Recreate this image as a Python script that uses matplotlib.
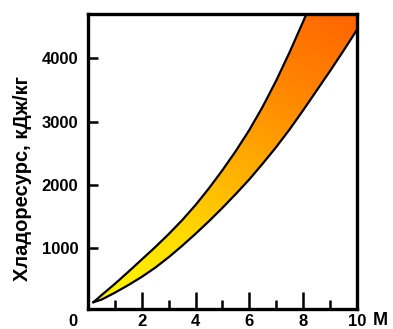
import numpy as np
import matplotlib
matplotlib.use("Agg")
import matplotlib.pyplot as plt
from matplotlib.colors import LinearSegmentedColormap
from matplotlib.patches import Polygon

plt.rcParams['font.family'] = ['Liberation Sans', 'DejaVu Sans']
plt.rcParams['font.weight'] = 'bold'

# upper boundary of the band
x_up = [0.2, 0.5, 1, 1.5, 2, 2.5, 3, 3.5, 4, 4.5, 5, 5.5, 6, 6.5, 7, 7.5, 8, 8.3]
y_up = [150, 260, 440, 630, 825, 1020, 1225, 1445, 1685, 1950, 2235, 2540, 2870,
        3240, 3650, 4100, 4580, 4880]
# lower boundary
x_lo = [0.2, 0.5, 1, 1.5, 2, 2.5, 3, 3.5, 4, 4.5, 5, 5.5, 6, 6.5, 7, 7.5, 8, 8.5,
        9, 9.5, 10]
y_lo = [150, 190, 300, 420, 550, 695, 860, 1040, 1230, 1430, 1640, 1860, 2090,
        2340, 2600, 2880, 3180, 3490, 3800, 4120, 4450]

x_ticks = [2, 4, 6, 8, 10]
x_minor = [1, 3, 5, 7, 9]
y_ticks = [1000, 2000, 3000, 4000]

fig = plt.figure(figsize=(3.93, 3.29), dpi=100)
ax = fig.add_axes([0.224, 0.0623, 0.684, 0.8947])
ax.set_xlim(0, 10)
ax.set_ylim(50, 4700)

# band outline: upper curve, top-right corner, lower curve back
x0, x1 = ax.get_xlim()
y0, y1 = ax.get_ylim()
verts = list(zip(x_up, y_up)) + [(x1, y_up[-1])] + list(zip(x_lo[::-1], y_lo[::-1]))
poly = Polygon(verts, closed=True, facecolor='none', edgecolor='none')
ax.add_patch(poly)

# yellow -> orange gradient clipped to the band
cmap = LinearSegmentedColormap.from_list('band', ['#fff700', '#ffe000', '#ffb000', '#ff8600', '#ff6400'])
gx, gy = np.meshgrid(np.linspace(0, 1, 200), np.linspace(0, 1, 200))
grad = 0.35 * gx + 0.65 * gy
im = ax.imshow(grad, extent=(x0, x1, y0, y1), origin='lower', cmap=cmap,
               aspect='auto', interpolation='bilinear', zorder=1)
im.set_clip_path(poly)

ax.plot(x_up, y_up, color='black', lw=1.6, zorder=3)
ax.plot(x_lo, y_lo, color='black', lw=1.6, zorder=3)

for s in ax.spines.values():
    s.set_linewidth(2.4)

ax.set_xticks(x_ticks)
ax.set_xticks(x_minor, minor=True)
ax.set_yticks(y_ticks)
ax.tick_params(axis='x', which='major', direction='in', length=12, width=1.8,
               labelsize=12, pad=4)
ax.tick_params(axis='x', which='minor', direction='in', length=6.5, width=1.8)
ax.tick_params(axis='y', which='major', direction='in', length=7, width=1.8,
               labelsize=12, pad=7)
for lab in ax.get_xticklabels() + ax.get_yticklabels():
    lab.set_fontweight('bold')

ax.set_ylabel('Хладоресурс, кДж/кг', fontsize=14.5, fontweight='bold')
ax.yaxis.set_label_coords(-0.21, 0.44)

ax.text(-0.04, -0.018, '0', transform=ax.transAxes, ha='right', va='top',
        fontsize=12, fontweight='bold')
ax.text(1.058, -0.012, 'M', transform=ax.transAxes, ha='left', va='top',
        fontsize=13, fontweight='bold')

fig.savefig('out.png', dpi=100)
